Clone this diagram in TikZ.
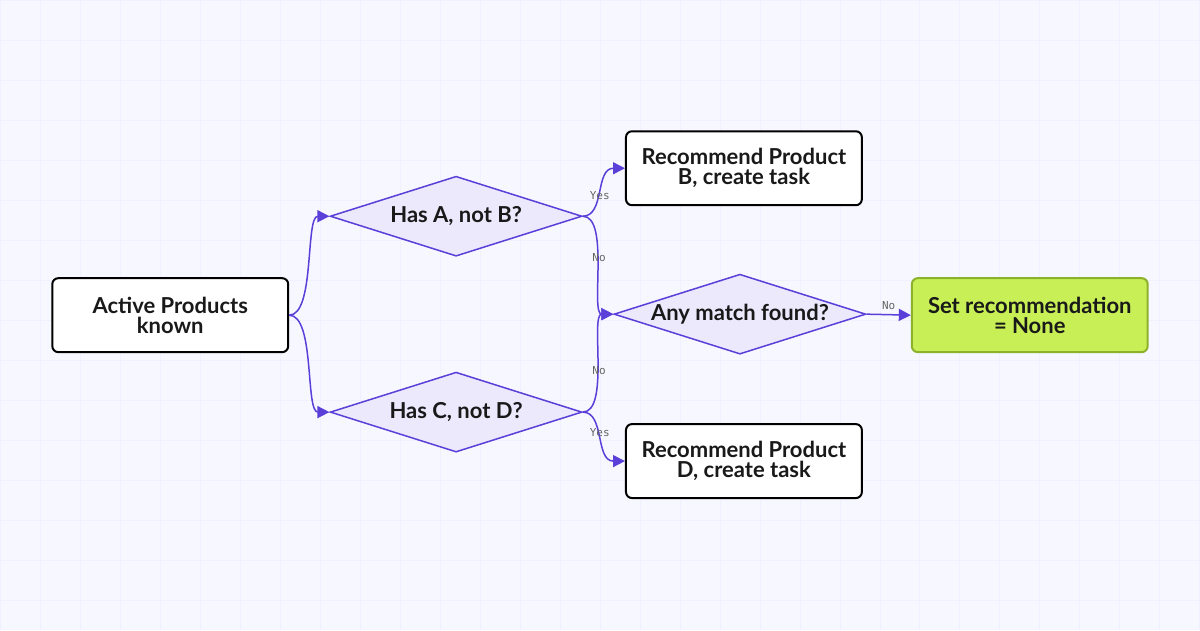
\documentclass[tikz,border=0pt]{standalone}
\usepackage{fontspec}
\setmainfont{Lato}
\newfontfamily\lblfont{DejaVu Sans Mono}
\usetikzlibrary{shapes.geometric,arrows.meta}
\definecolor{edge}{HTML}{5B3FD9}
\definecolor{dfill}{HTML}{ECE9FC}
\definecolor{gfill}{HTML}{C8F056}
\definecolor{gdraw}{HTML}{8DB12A}
\begin{document}
\begin{tikzpicture}[x=1pt,y=-1pt,
 box/.style={draw=black,line width=2pt,rounded corners=6pt,fill=white,minimum width=236pt,minimum height=74pt,inner sep=0pt},
 dia/.style={diamond,draw=edge,line width=1.5pt,fill=dfill,minimum width=252pt,minimum height=80pt,inner sep=0pt,aspect=3.15},
 txt/.style={font=\bfseries\fontsize{22}{20}\selectfont,align=center,text=black!90},
 con/.style={draw=edge,line width=1.5pt,-{Triangle[length=12pt,width=12pt]}},
 lbl/.style={font=\lblfont\fontsize{11}{11}\selectfont,text=gray!80!black,fill=none}]
\fill[white!97!blue] (0,0) rectangle (1200,630);
\foreach \i in {0,40,...,1200} \draw[blue!6,line width=0.7pt] (\i,0)--(\i,630);
\foreach \j in {0,40,...,630} \draw[blue!6,line width=0.7pt] (0,\j)--(1200,\j);
\useasboundingbox (0,0) rectangle (1200,630);
\node[box] (act) at (170,315) {};
\node[txt] at (act) {Active Products\\known};
\node[dia] (da) at (456,216) {};
\node[txt] at (da) {Has A, not B?};
\node[dia] (dc) at (456,412) {};
\node[txt] at (dc) {Has C, not D?};
\node[dia] (dm) at (740,314) {};
\node[txt] at (dm) {Any match found?};
\node[box] (rb) at (744,168) {};
\node[txt] at (rb) {Recommend Product\\B, create task};
\node[box] (rd) at (744,461) {};
\node[txt] at (rd) {Recommend Product\\D, create task};
\node[box,fill=gfill,draw=gdraw] (sr) at (1030,315) {};
\node[txt] at (sr) {Set recommendation\\= None};
\draw[con] (act.east) .. controls (315,315) and (305,216) .. (da.west);
\draw[con] (act.east) .. controls (315,315) and (305,412) .. (dc.west);
\draw[con] (da.east) .. controls (605,216) and (595,168) .. (rb.west) node[lbl,pos=0.45] {Yes};
\draw[con] (da.east) .. controls (610,216) and (590,314) .. (dm.west) node[lbl,pos=0.45] {No};
\draw[con] (dc.east) .. controls (610,412) and (590,314) .. (dm.west) node[lbl,pos=0.45] {No};
\draw[con] (dc.east) .. controls (605,412) and (595,461) .. (rd.west) node[lbl,pos=0.45] {Yes};
\draw[con] (dm.east) -- (sr.west) node[lbl,midway,above=1pt] {No};
\end{tikzpicture}
\end{document}
